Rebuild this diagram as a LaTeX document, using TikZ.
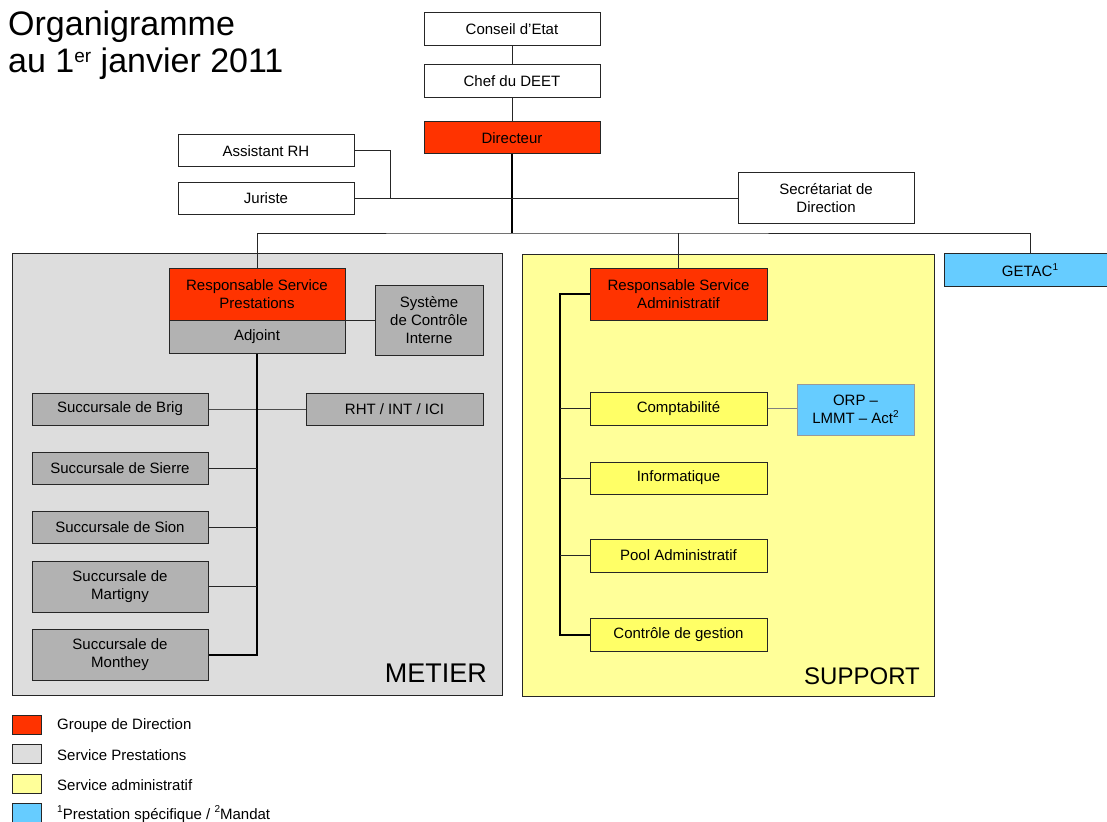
\documentclass[tikz,border=0pt]{standalone}
\usepackage{fontspec}
\setmainfont{Liberation Sans}
\definecolor{redfill}{HTML}{FF3300}
\definecolor{metierbg}{HTML}{DDDDDD}
\definecolor{graybox}{HTML}{B2B2B2}
\definecolor{supportbg}{HTML}{FFFF99}
\definecolor{yellowbox}{HTML}{FFFF66}
\definecolor{bluebox}{HTML}{66CCFF}
\definecolor{edge}{HTML}{262626}
\newcommand\smallsup[1]{\raisebox{0.42em}{\fontsize{10}{10}\selectfont #1}}
\tikzset{
  box/.style={draw=edge, line width=1pt, inner sep=0pt, align=center,
    font=\fontsize{15}{18}\selectfont, text=black},
  wbox/.style={box, fill=white},
  rbox/.style={box, fill=redfill},
  gbox/.style={box, fill=graybox},
  ybox/.style={box, fill=yellowbox},
  bbox/.style={box, fill=bluebox},
  conn/.style={draw=edge, line width=1pt},
  thickconn/.style={draw=black, line width=2pt},
  midconn/.style={draw=black!70, line width=1pt},
  softconn/.style={draw=black!50, line width=1pt},
  area/.style={draw=edge, line width=1pt},
  legsq/.style={draw=edge, line width=1pt, minimum width=29pt, minimum height=19pt, inner sep=0pt},
  legtxt/.style={anchor=west, inner sep=0pt, font=\fontsize{15}{18}\selectfont},
  titletxt/.style={anchor=base west, inner sep=0pt, font=\fontsize{34}{40}\selectfont},
  wh/.style 2 args={minimum width=#1pt, minimum height=#2pt}
}
\begin{document}
\begin{tikzpicture}[x=1pt,y=-1pt]
\useasboundingbox (0,0) rectangle (1107,821);

% title
\node[titletxt] (t1) at (8,36) {Organigramme};
\node[titletxt] (t2) at (8,73) {au 1\raisebox{0.3em}{\fontsize{19}{19}\selectfont er} janvier 2011};

% background areas
\node[area, fill=metierbg, inner sep=0pt, minimum width=490pt, minimum height=442pt, anchor=north west] (metier) at (12,253) {};
\node[area, fill=supportbg, inner sep=0pt, minimum width=412pt, minimum height=442pt, anchor=north west] (support) at (522,254) {};
\node[anchor=base east, inner sep=0pt, font=\fontsize{27}{30}\selectfont] (metierlbl) at (487,682) {METIER};
\node[anchor=base east, inner sep=0pt, font=\fontsize{24}{28}\selectfont] (supportlbl) at (920,684) {SUPPORT};

% top chain
\node[wbox, wh={176}{33}] (conseil) at (512,29) {Conseil d'Etat};
\node[wbox, wh={176}{33}] (chef) at (512,81.5) {Chef du DEET};
\node[rbox, wh={176}{32}] (dir) at (512,138) {Directeur};
\node[wbox, wh={176}{32}] (ass) at (266,151) {Assistant RH};
\node[wbox, wh={176}{32}] (jur) at (266,198) {Juriste};
\node[wbox, wh={176}{50}] (sec) at (826,198) {Secrétariat de\\Direction};
\node[bbox, wh={172}{33}] (getac) at (1030,270) {GETAC\smallsup{1}};
\coordinate (hub) at (512,233);
\coordinate (rhjoin) at (390,198);

% metier
\node[rbox, wh={176}{52}] (rsp) at (257,294) {Responsable Service\\Prestations};
\node[gbox, wh={176}{33}] (adj) at (257,336.5) {Adjoint};
\node[gbox, wh={108}{70}] (sys) at (429,320) {Système\\de Contrôle\\Interne};
\node[gbox, wh={176}{32}] (brig) at (120,409) {Succursale de Brig};
\node[gbox, wh={177}{32}] (rht) at (394.5,409) {RHT / INT / ICI};
\node[gbox, wh={176}{32}] (sierre) at (120,468) {Succursale de Sierre};
\node[gbox, wh={176}{32}] (sion) at (120,527) {Succursale de Sion};
\node[gbox, wh={176}{51}] (mart) at (120,586.5) {Succursale de\\Martigny};
\node[gbox, wh={176}{51}] (mont) at (120,654.5) {Succursale de\\Monthey};

% support
\node[rbox, wh={177}{52}] (rsa) at (678.5,294) {Responsable Service\\Administratif};
\node[ybox, wh={177}{33}] (compt) at (678.5,408.5) {Comptabilité};
\node[bbox, draw=black!40, wh={117}{51}] (orp) at (855.5,409.5) {ORP --\\LMMT -- Act\smallsup{2}};
\node[ybox, wh={177}{32}] (info) at (678.5,478) {Informatique};
\node[ybox, wh={177}{33}] (pool) at (678.5,555.5) {Pool Administratif};
\node[ybox, wh={177}{33}] (ctrl) at (678.5,634.5) {Contrôle de gestion};
\coordinate (sbar) at (560,294);

% connectors top
\draw[conn] (conseil) -- (chef);
\draw[conn] (chef) -- (dir);
\draw[thickconn] (dir.south) -- (hub);
\draw[conn] (ass.east) -| (rhjoin);
\draw[conn] (jur.east) -- (sec.west);
\draw[conn] (rsp.north) |- (hub) -| (getac.north);
\draw[conn] (rsa.north) -- (rsa.north |- hub);

% connectors metier
\draw[conn] (rsp.south east) -- (sys.west |- rsp.south east);
\draw[midconn] (brig.east) -- (rht.west);
\draw[thickconn] (adj.south) |- (mont.east);
\draw[conn] (sierre.east) -- (sierre.east -| adj.south);
\draw[conn] (sion.east) -- (sion.east -| adj.south);
\draw[conn] (mart.east) -- (mart.east -| adj.south);

% connectors support
\draw[thickconn] (rsa.west) -- (sbar) |- (ctrl.west);
\draw[conn] (compt.west) -- (compt.west -| sbar);
\draw[conn] (info.west) -- (info.west -| sbar);
\draw[conn] (pool.west) -- (pool.west -| sbar);
\draw[softconn] (compt.east) -- (orp.west |- compt.east);

% legend
\node[legsq, fill=redfill] (lg1) at (26.5,724.5) {};
\node[legsq, fill=metierbg] (lg2) at (26.5,754) {};
\node[legsq, fill=supportbg] (lg3) at (26.5,784) {};
\node[legsq, fill=bluebox] (lg4) at (26.5,813) {};
\node[legtxt] (lt1) at (57,726) {Groupe de Direction};
\node[legtxt] (lt2) at (57,755) {Service Prestations};
\node[legtxt] (lt3) at (57,785) {Service administratif};
\node[legtxt] (lt4) at (57,814) {\smallsup{1}Prestation spécifique / \smallsup{2}Mandat};
\end{tikzpicture}
\end{document}
